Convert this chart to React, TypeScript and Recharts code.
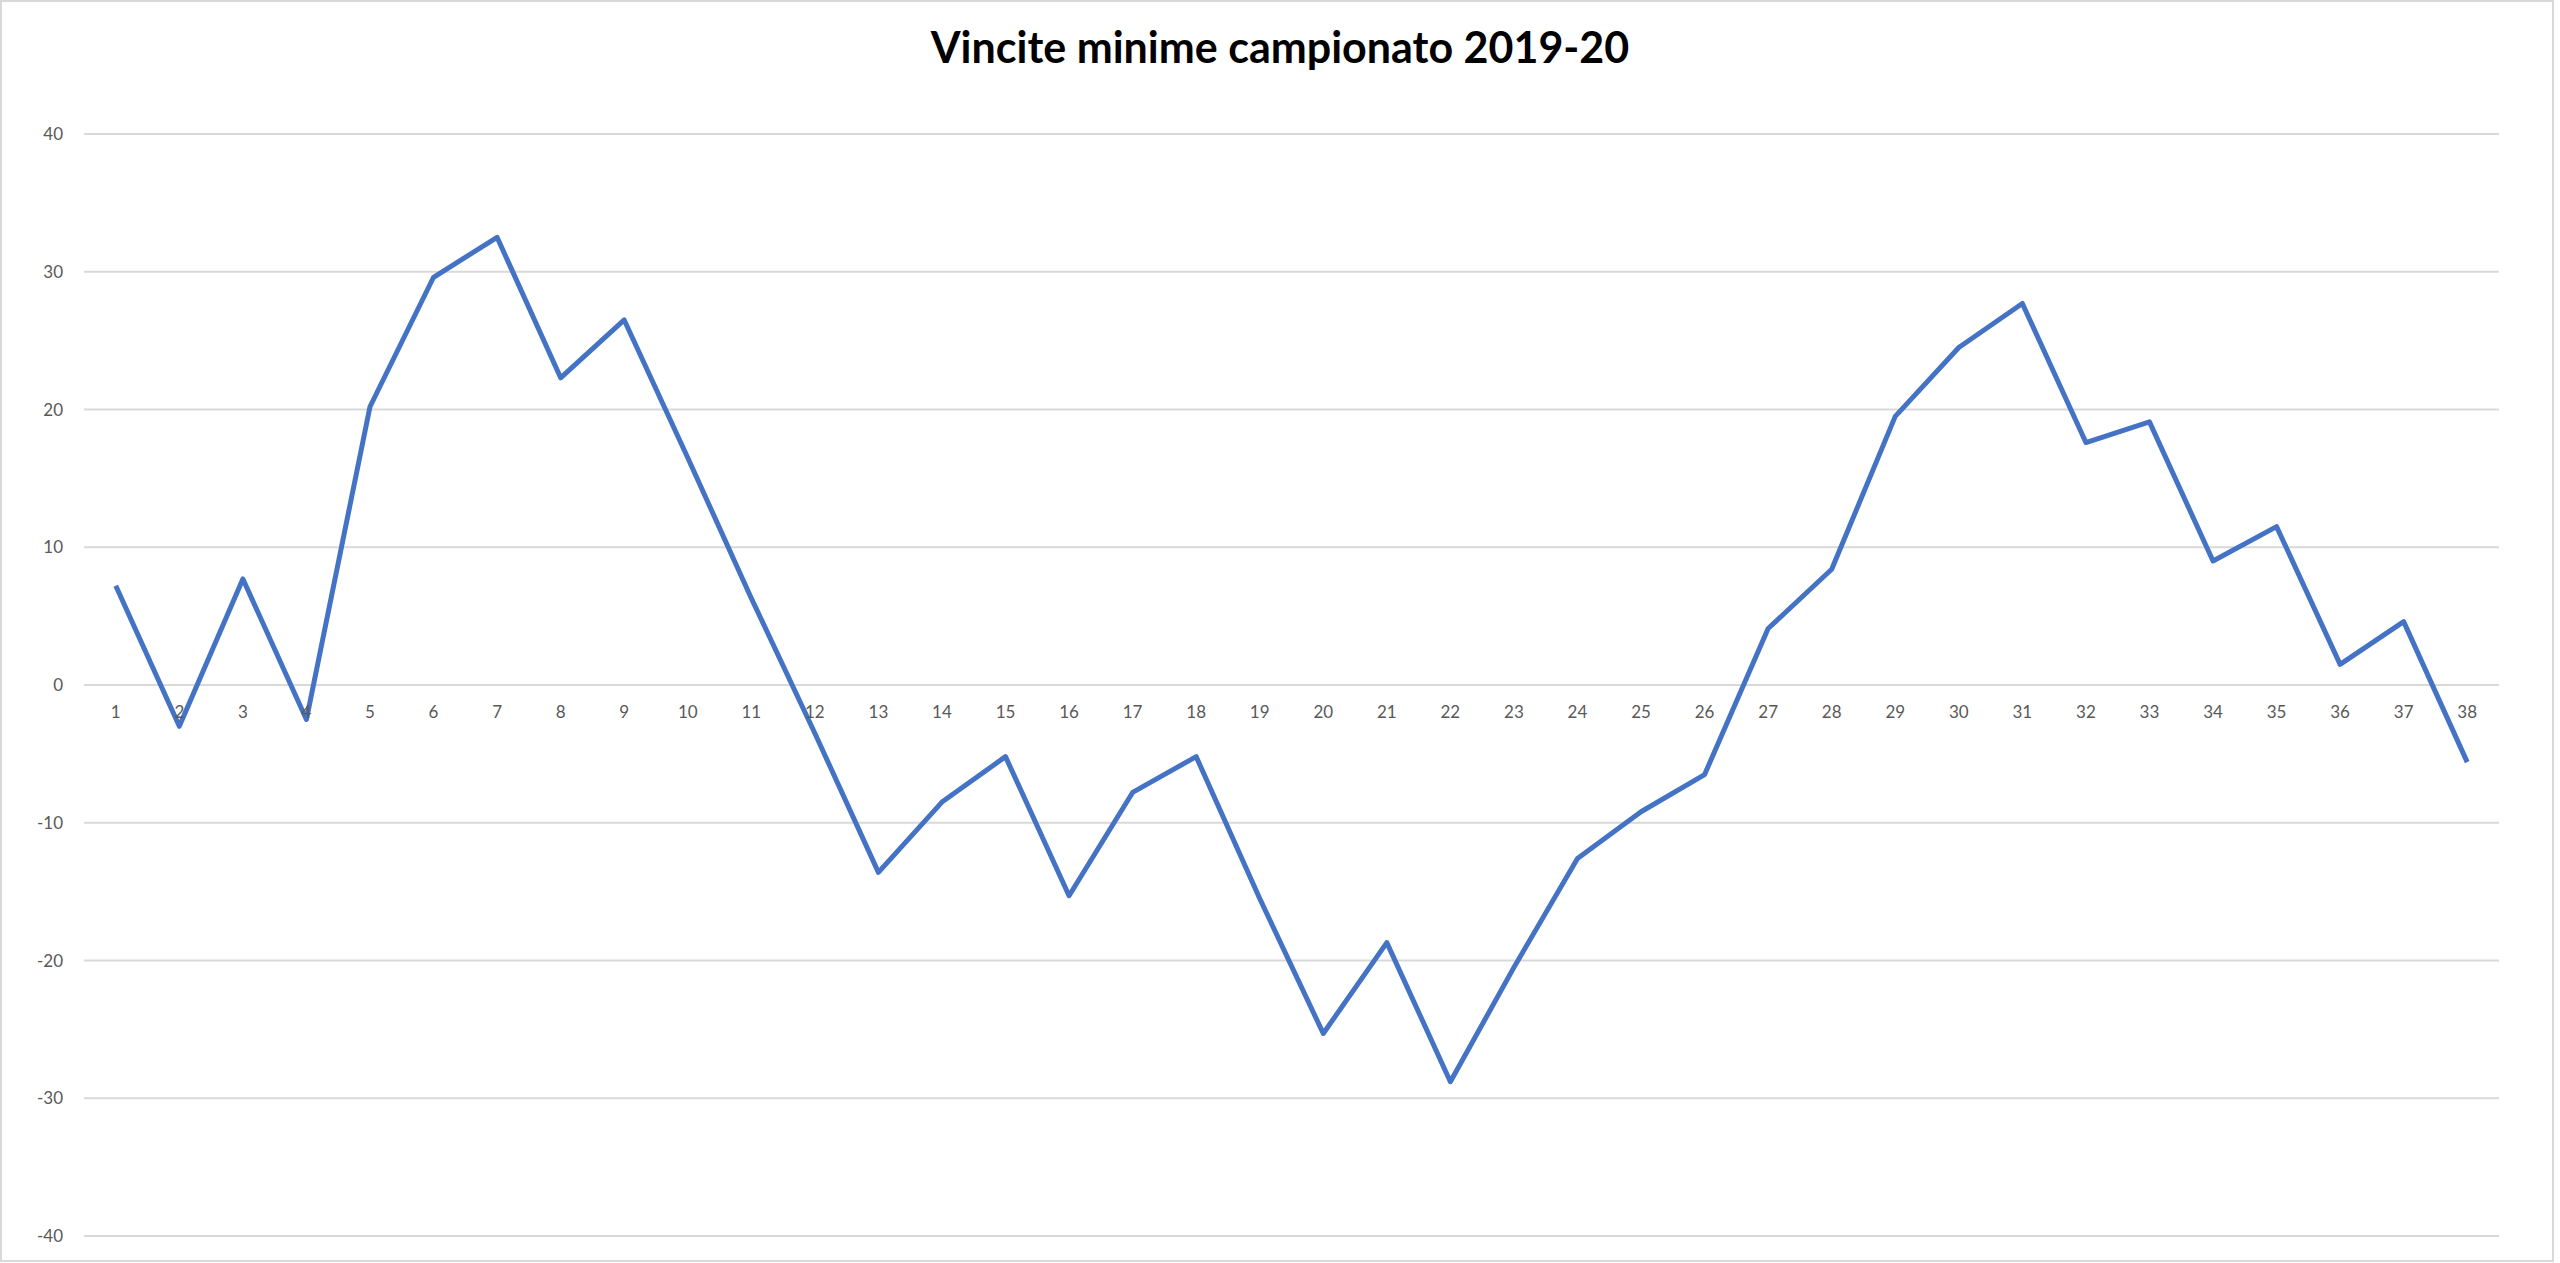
import React from 'react';
import { LineChart, Line, XAxis, YAxis, CartesianGrid } from 'recharts';

// giornate 1..38
const rounds = [
  1, 2, 3, 4, 5, 6, 7, 8, 9, 10, 11, 12, 13, 14, 15, 16, 17, 18, 19,
  20, 21, 22, 23, 24, 25, 26, 27, 28, 29, 30, 31, 32, 33, 34, 35, 36, 37, 38,
];

const winnings = [
  7.2, -3.0, 7.7, -2.5, 20.2, 29.6, 32.5, 22.3, 26.5, 16.5,
  6.3, -3.5, -13.6, -8.5, -5.2, -15.3, -7.8, -5.2, -15.5, -25.3,
  -18.7, -28.8, -20.5, -12.6, -9.2, -6.5, 4.1, 8.4, 19.5, 24.5,
  27.7, 17.6, 19.1, 9.0, 11.5, 1.5, 4.6, -5.6,
];

const yTicks = [-40, -30, -20, -10, 0, 10, 20, 30, 40];

const TITLE = 'Vincite minime campionato 2019-20';

const W = 2560;
const H = 1263;
const TOP = 134;
const BOTTOM = 26;
const XAXIS_H = 1;
const ZERO_Y = TOP + (H - TOP - BOTTOM - XAXIS_H) / 2;
const FONT = 'Lato, "Open Sans", sans-serif';
const LABEL = '#595959';

const data = rounds.map((r, i) => ({ round: r, value: winnings[i] }));

function renderRoundTick(props: any) {
  // category labels sit just under the zero line, like Excel's crossing axis
  const { x, payload } = props;
  return (
    <text key={payload.value} x={x} y={ZERO_Y + 26} textAnchor="middle" dominantBaseline="central" fill={LABEL} fontSize={17} fontFamily={FONT}>
      {payload.value}
    </text>
  );
}

export default function App() {
  return (
    <div style={{ position: 'absolute', left: 0, top: 0, width: W, height: H, background: '#fff' }}>
      <div
        style={{
          position: 'absolute', left: 0, top: 0, width: 2554, height: 1262,
          border: '2px solid #d9d9d9', boxSizing: 'border-box',
        }}
      />
      <div
        style={{
          position: 'absolute', left: 0, top: 22, width: W, textAlign: 'center',
          fontFamily: FONT, fontWeight: 700, fontSize: 43, lineHeight: '50px', color: '#000',
        }}
      >
        {TITLE}
      </div>
      <div style={{ position: 'absolute', left: 0, top: 0 }}>
        <LineChart width={W} height={H} data={data} margin={{ top: TOP, right: 61, bottom: BOTTOM, left: 0 }}>
          <CartesianGrid vertical={false} stroke="#d9d9d9" strokeWidth={2} />
          <XAxis
            dataKey="round"
            type="number"
            domain={[0.5, 38.5]}
            ticks={rounds}
            height={XAXIS_H}
            axisLine={false}
            tickLine={false}
            interval={0}
            tick={renderRoundTick}
          />
          <YAxis
            width={84}
            domain={[-40, 40]}
            ticks={yTicks}
            axisLine={false}
            tickLine={false}
            tickSize={0}
            tickMargin={21}
            tick={{ fill: LABEL, fontSize: 17, fontFamily: FONT }}
          />
          <Line
            type="linear"
            dataKey="value"
            stroke="#4472C4"
            strokeWidth={5}
            strokeLinejoin="round"
            dot={false}
            isAnimationActive={false}
          />
        </LineChart>
      </div>
    </div>
  );
}
